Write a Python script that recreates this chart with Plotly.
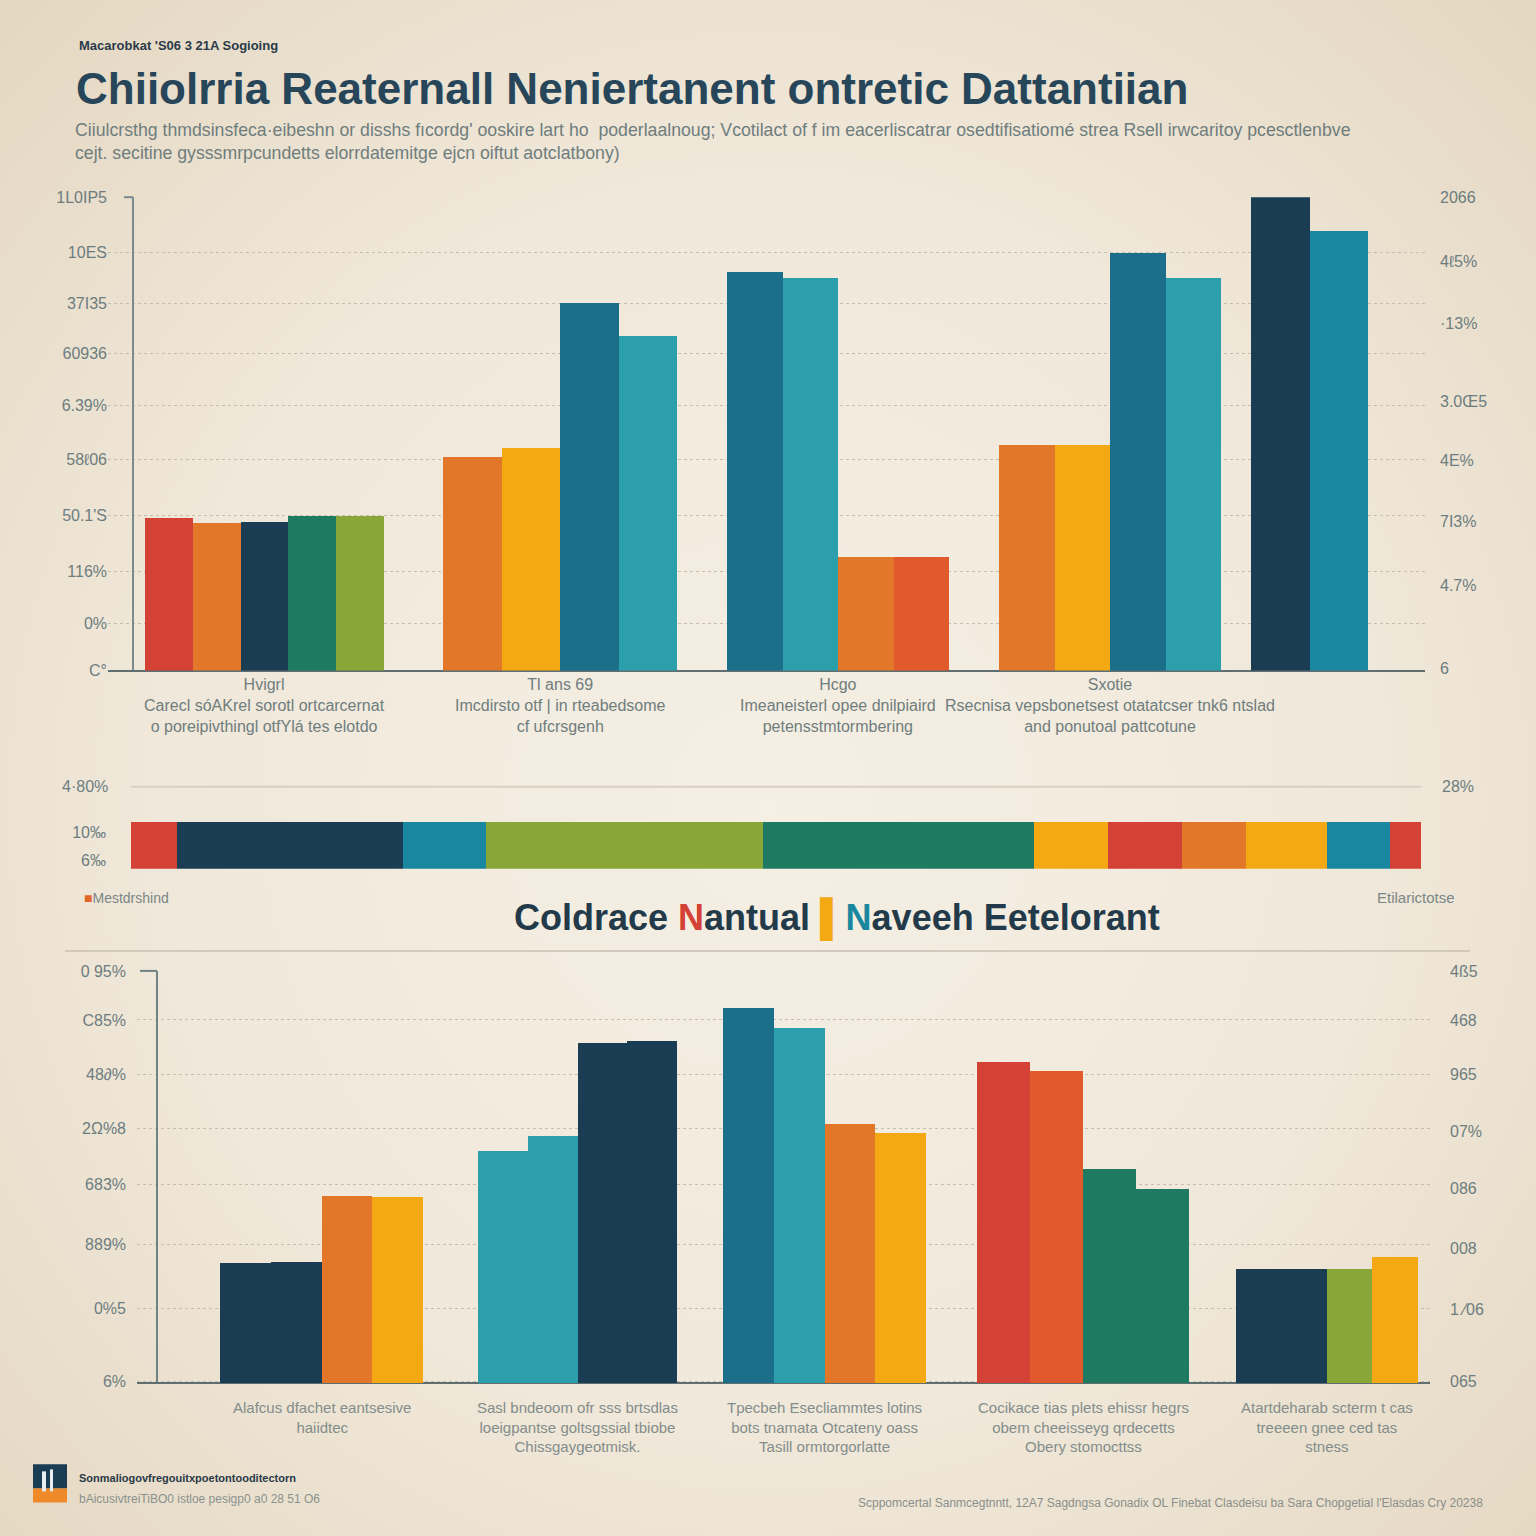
import base64
import plotly.graph_objects as go

W = H = 1536
BG = "#ebe1cf"
INK = "#27465a"
GRAY = "#6d7d7f"
GRID = "#c6beae"

# ---------------- colours ----------------
RED, ORANGE, NAVY, DGREEN, GREEN = "#d44135", "#e2772a", "#1a3d54", "#1f7a62", "#89a638"
AMBER, TBLUE, TEAL, OREDD, TBLUE2 = "#f3a814", "#1b6f8a", "#2b9fab", "#e05a2b", "#1a87a0"

# ---------------- data ----------------
top_group_names = ["Hvigrl", "Tl ans 69", "Hcgo", "Sxotie", ""]
top_group_desc = [
    "Carecl sóAKrel sorotl ortcarcernat<br>o poreipivthingl otfYlá tes elotdo",
    "Imcdirsto otf | in rteabedsome<br>cf ufcrsgenh",
    "Imeaneisterl opee dnilpiaird<br>petensstmtormbering",
    "Rsecnisa vepsbonetsest otatatcser tnk6 ntslad<br>and ponutoal pattcotune",
    "",
]
top_values = [
    [32.3, 31.1, 31.3, 32.6, 32.6],
    [45.2, 47.1, 77.6, 70.6],
    [84.1, 82.9, 24.1, 24.1],
    [47.6, 47.6, 88.2, 82.9],
    [100.0, 92.8],
]
top_left_ticks = [0, 9.9, 20.9, 32.8, 44.6, 56.0, 67.0, 77.6, 88.4, 100]
top_left_labels = ["C°", "0%", "116%", "50.1'S", "58ℓ06", "6.39%", "60936", "37I35", "10ES", "1L0IP5"]
top_right_ticks = [0.4, 18.0, 31.5, 44.4, 56.9, 73.4, 86.5, 100]
top_right_labels = ["6", "4.7%", "7I3%", "4E%", "3.0Œ5", "·13%", "4ℓ5%", "2066"]

strip_values = [3.6, 17.5, 6.4, 21.5, 21.0, 5.7, 5.8, 4.9, 6.3, 4.9, 2.4]

bot_group_desc = [
    "Alafcus dfachet eantsesive<br>haiidtec",
    "Sasl bndeoom ofr sss brtsdlas<br>loeigpantse goltsgssial tbiobe<br>Chissgaygeotmisk.",
    "Tpecbeh Esecliammtes lotins<br>bots tnamata Otcateny oass<br>Tasill ormtorgorlatte",
    "Cocikace tias plets ehissr hegrs<br>obem cheeisseyg qrdecetts<br>Obery stomocttss",
    "Atartdeharab scterm t cas<br>treeeen gnee ced tas<br>stness",
]
bot_values = [
    [29.1, 29.4, 45.4, 45.1],
    [56.3, 60.0, 82.5, 83.0],
    [91.0, 86.2, 62.9, 60.7],
    [77.9, 75.7, 51.9, 47.1],
    [27.7, 27.7, 27.7, 30.6],
]
bot_left_ticks = [0.5, 18.2, 33.7, 48.3, 61.9, 75.0, 88.1, 100]
bot_left_labels = ["6%", "0%5", "889%", "683%", "2Ω%8", "48∂%", "C85%", "0 95%"]
bot_right_ticks = [0.5, 18.0, 32.8, 47.3, 61.2, 75.0, 88.1, 100]
bot_right_labels = ["065", "1 ⁄06", "008", "086", "07%", "965", "468", "4ß5"]

# ---------------- styles ----------------
top_colors = [
    [RED, ORANGE, NAVY, DGREEN, GREEN],
    [ORANGE, AMBER, TBLUE, TEAL],
    [TBLUE, TEAL, ORANGE, OREDD],
    [ORANGE, AMBER, TBLUE, TEAL],
    [NAVY, TBLUE2],
]
strip_colors = [RED, NAVY, TBLUE2, GREEN, DGREEN, AMBER, RED, ORANGE, AMBER, TBLUE2, RED]
bot_colors = [
    [NAVY, NAVY, ORANGE, AMBER],
    [TEAL, TEAL, NAVY, NAVY],
    [TBLUE, TEAL, ORANGE, AMBER],
    [RED, OREDD, DGREEN, DGREEN],
    [NAVY, NAVY, GREEN, AMBER],
]


def place(values, first, gaps, widths):
    xs, ws, centers = [], [], []
    pos = first
    for gi, vals in enumerate(values):
        if gi > 0:
            pos += gaps[gi - 1]
        start = pos
        for _ in vals:
            xs.append(pos + widths[gi] / 2)
            ws.append(widths[gi])
            pos += widths[gi]
        centers.append((start + pos) / 2)
    return xs, ws, centers


def flat(l):
    return [v for sub in l for v in sub]


# the viewer maps figure rows slightly (offset + vertical scale); compensate
VS, VO = 0.988, 8.0


def py(px):  # target screen row -> paper y
    return 1 - ((px - VO) / VS) / H


def pxx(px):  # pixel column -> paper x
    return px / W


tx, tw, tcent = place(top_values, 0.218, [1.073, 0.909, 0.909, 0.545],
                      [0.869, 1.064, 1.009, 1.009, 1.064])
bx, bw, bcent = place(bot_values, 1.248, [1.089, 0.911, 1.01, 0.93],
                      [1.005, 0.985, 1.005, 1.05, 0.90])

fig = go.Figure()

fig.add_trace(go.Bar(x=tx, y=flat(top_values), width=tw,
                     marker=dict(color=flat(top_colors), line=dict(width=0)),
                     xaxis="x", yaxis="y", hoverinfo="skip"))
for v, c in zip(strip_values, strip_colors):
    fig.add_trace(go.Bar(x=[v], y=[0], orientation="h", width=1,
                         marker=dict(color=c, line=dict(width=0)),
                         xaxis="x2", yaxis="y3", hoverinfo="skip"))
fig.add_trace(go.Bar(x=bx, y=flat(bot_values), width=bw,
                     marker=dict(color=flat(bot_colors), line=dict(width=0)),
                     xaxis="x3", yaxis="y4", hoverinfo="skip"))

tickfont = dict(family="Arial", size=16, color=GRAY)

fig.update_layout(
    width=W, height=H, autosize=False,
    margin=dict(l=0, r=0, t=0, b=0),
    paper_bgcolor=BG, plot_bgcolor="rgba(0,0,0,0)",
    showlegend=False, barmode="stack",
    # top chart
    xaxis=dict(domain=[pxx(108), pxx(1425)], range=[-25 / 55, 1292 / 55],
               showgrid=False, showticklabels=False, zeroline=True,
               zerolinecolor="#7b8a8c", zerolinewidth=2, anchor="y"),
    yaxis=dict(domain=[py(670), py(197)], range=[0, 100], anchor="x",
               tickvals=top_left_ticks, ticktext=top_left_labels, tickfont=tickfont,
               showgrid=True, gridcolor=GRID, griddash="dot", gridwidth=1,
               zeroline=True, zerolinecolor="#5f6e70", zerolinewidth=2, ticks=""),
    yaxis2=dict(overlaying="y", side="right", range=[0, 100], anchor="x",
                tickvals=top_right_ticks, ticktext=top_right_labels, tickfont=tickfont,
                showgrid=False, zeroline=False, ticklabelstandoff=14),
    # strip chart
    xaxis2=dict(domain=[pxx(131), pxx(1421)], range=[0, 100], anchor="y3",
                showgrid=False, showticklabels=False, zeroline=False),
    yaxis3=dict(domain=[py(868), py(780)], range=[-0.5, 1.372], anchor="x2",
                tickvals=[0.266, -0.33], ticktext=["10‰", "6‰"], tickfont=tickfont,
                showgrid=False, zeroline=False, ticklabelstandoff=24),
    # bottom chart
    xaxis3=dict(domain=[pxx(137), pxx(1430)], range=[-20 / 50.5, 1273 / 50.5],
                showgrid=False, showticklabels=False, zeroline=True,
                zerolinecolor="#6f8284", zerolinewidth=2, anchor="y4"),
    yaxis4=dict(domain=[py(1382), py(970)], range=[0, 100], anchor="x3",
                tickvals=bot_left_ticks, ticktext=bot_left_labels, tickfont=tickfont,
                showgrid=True, gridcolor=GRID, griddash="dot", gridwidth=1,
                zeroline=True, zerolinecolor="#5f6e70", zerolinewidth=2,
                ticklabelstandoff=10),
    yaxis5=dict(overlaying="y4", side="right", range=[0, 100], anchor="x3",
                tickvals=bot_right_ticks, ticktext=bot_right_labels, tickfont=tickfont,
                showgrid=False, zeroline=False, ticklabelstandoff=19),
)

# dummy traces so the right axes render
fig.add_trace(go.Scatter(x=[None], y=[None], xaxis="x", yaxis="y2", showlegend=False))
fig.add_trace(go.Scatter(x=[None], y=[None], xaxis="x3", yaxis="y5", showlegend=False))

# soft paper vignette behind everything
svg = ("<svg xmlns='http://www.w3.org/2000/svg' width='1536' height='1536'>"
       "<defs><radialGradient id='g' cx='50%' cy='52%' r='72%'>"
       "<stop offset='0%' stop-color='#f5efe4'/><stop offset='55%' stop-color='#f0e8da'/>"
       "<stop offset='100%' stop-color='#e4d7c1'/></radialGradient></defs>"
       "<rect width='1536' height='1536' fill='url(#g)'/></svg>")
fig.add_layout_image(dict(source="data:image/svg+xml;base64," + base64.b64encode(svg.encode()).decode(),
                          xref="paper", yref="paper", x=0, y=1.01, sizex=1, sizey=1.03,
                          sizing="stretch", xanchor="left", yanchor="top", layer="below"))

ann = []


def text(x, y, s, size, color, bold=False, xanchor="left", yanchor="middle", family="Arial"):
    ann.append(dict(xref="paper", yref="paper", x=pxx(x), y=py(y), text=s, showarrow=False,
                    xanchor=xanchor, yanchor=yanchor, align=xanchor if xanchor != "center" else "center",
                    font=dict(family=family, size=size, color=color, weight="bold" if bold else "normal")))


# header
text(77, 45, "Macarobkat 'S06 3 21A Sogioing", 13, "#2a3a48", bold=True)
text(74, 88, "Chiiolrria Reaternall Neniertanent ontretic Dattantiian", 44, INK, bold=True)
text(73, 130, "Ciiulcrsthg thmdsinsfeca·eibeshn or disshs fıcordg' ooskire lart ho  poderlaalnoug; "
              "Vcotilact of f im eacerliscatrar osedtifisatiomé strea Rsell irwcaritoy pcesctlenbve",
     17.7, "#6f7d7d")
text(73, 153, "cejt. secitine gysssmrpcundetts elorrdatemitge ejcn oiftut aotclatbony)", 17.7, "#6f7d7d")

# top category labels
for c, n, d in zip(tcent, top_group_names, top_group_desc):
    if not n:
        continue
    ann.append(dict(xref="x", yref="paper", x=c, y=py(673), yanchor="top", xanchor="center",
                    text=n + "<br>" + d, showarrow=False, align="center",
                    font=dict(family="Arial", size=16, color="#6f7d7d")))

# strip labels
text(110, 786, "4·80%", 16, GRAY, xanchor="right")
text(1440, 786, "28%", 16, GRAY)
text(82, 897, "<span style='color:#e2672a'>■</span>Mestdrshind", 14, "#7a8686")
text(1457, 897, "Etilarictotse", 15, "#7a8686", xanchor="right")
text(837, 918, "Coldrace <span style='color:#d44135'>N</span>antual "
               "<span style='color:#f3a814'>▌</span><span style='color:#1a87a0'>N</span>aveeh Eetelorant",
     36, "#233a4a", bold=True, xanchor="center")

# bottom category labels
for c, d in zip(bcent, bot_group_desc):
    ann.append(dict(xref="x3", yref="paper", x=c, y=py(1396), yanchor="top", xanchor="center",
                    text=d, showarrow=False, align="center",
                    font=dict(family="Arial", size=15, color="#838d8b")))

# footer
text(77, 1477, "Sonmaliogovfregouitxpoetontooditectorn", 11, "#2a3a48", bold=True)
text(77, 1498, "bAicusivtreiTiBO0 istloe pesigp0 a0 28 51 O6", 12, "#8a928e")
text(1485, 1502, "Scppomcertal Sanmcegtnntt, 12A7 Sagdngsa Gonadix OL Finebat Clasdeisu ba "
                 "Sara Chopgetial l'Elasdas Cry 20238", 12, "#8a8f8a", xanchor="right")

fig.update_layout(annotations=ann)

shapes = [
    # strip gridline
    dict(type="line", xref="x2", yref="y3", x0=-0.5, x1=100.5, y0=1.245, y1=1.245,
         line=dict(color="#d8d0c2", width=2)),
    # rule under middle title
    dict(type="line", xref="paper", yref="paper", x0=pxx(65), x1=pxx(1470), y0=py(950), y1=py(950),
         line=dict(color="#c9c1b2", width=1.5)),
    # axis end ticks
    dict(type="line", xref="paper", yref="paper", x0=pxx(140), x1=pxx(157), y0=py(970), y1=py(970),
         line=dict(color="#6f8284", width=2)),
    dict(type="line", xref="paper", yref="paper", x0=pxx(124), x1=pxx(133), y0=py(197), y1=py(197),
         line=dict(color="#7b8a8c", width=2)),
    # logo
    dict(type="rect", xref="paper", yref="paper", x0=pxx(33), x1=pxx(67), y0=py(1487), y1=py(1463),
         fillcolor=NAVY, line=dict(width=0)),
    dict(type="rect", xref="paper", yref="paper", x0=pxx(33), x1=pxx(67), y0=py(1501), y1=py(1487),
         fillcolor="#ee8a2a", line=dict(width=0)),
    dict(type="rect", xref="paper", yref="paper", x0=pxx(42), x1=pxx(46), y0=py(1490), y1=py(1470),
         fillcolor="#e8eef0", line=dict(width=0)),
    dict(type="rect", xref="paper", yref="paper", x0=pxx(50), x1=pxx(53), y0=py(1490), y1=py(1468),
         fillcolor="#e8eef0", line=dict(width=0)),
]
fig.update_layout(shapes=shapes)

fig.write_html("out.html", config={"displayModeBar": False},
               post_script="document.body.style.margin='0';document.body.style.overflow='hidden';")
